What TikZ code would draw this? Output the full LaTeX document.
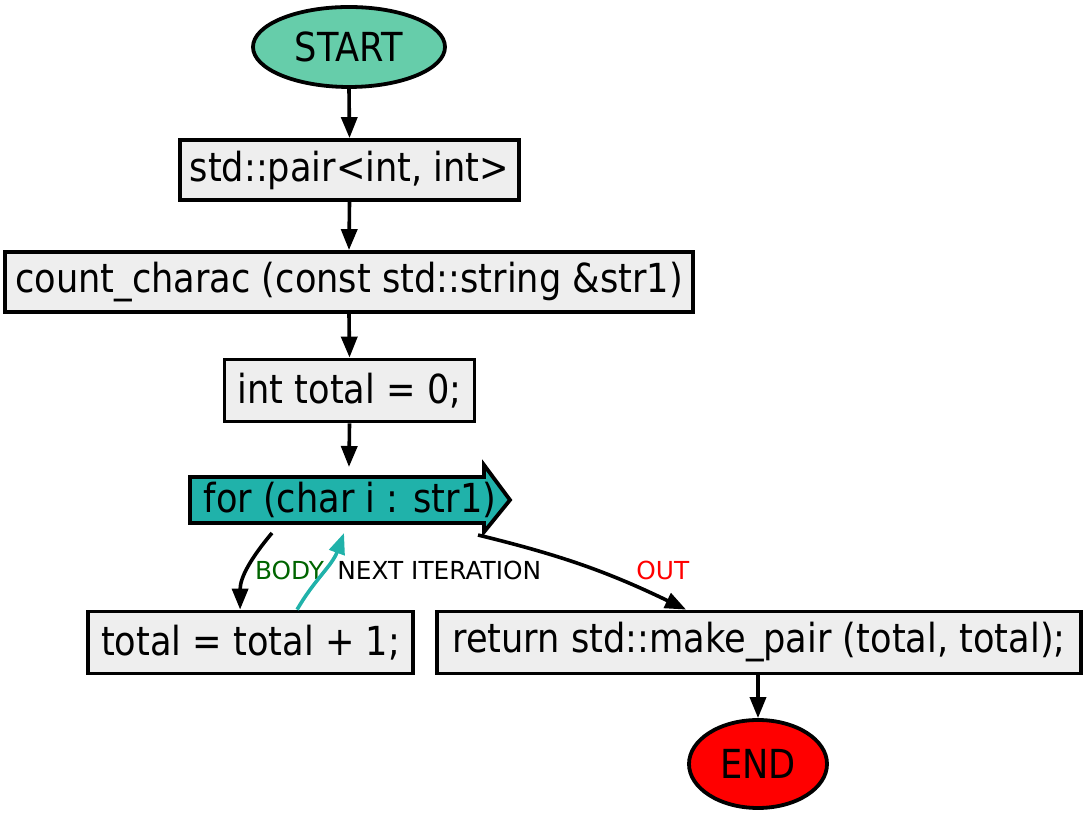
\documentclass[tikz,border=0pt]{standalone}
\usepackage{fontspec}
\setmainfont{DejaVu Sans}[FakeStretch=0.88]
\newfontfamily\lblfont{DejaVu Sans}
\usetikzlibrary{shapes.geometric,arrows.meta,calc,backgrounds}
\definecolor{startc}{RGB}{102,205,170}
\definecolor{boxc}{RGB}{238,238,238}
\definecolor{forc}{RGB}{32,178,170}
\definecolor{bodyc}{RGB}{0,100,0}
\begin{document}
\begin{tikzpicture}[x=0.5pt,y=0.5pt,
  every node/.style={font=\fontsize{20pt}{24pt}\selectfont},
  term/.style={ellipse,draw=black,line width=1.9pt,inner sep=0pt},
  stmt/.style={rectangle,draw=black,line width=1.9pt,fill=boxc,inner sep=0pt,minimum height=30pt},
  flow/.style={line width=1.8pt,-{Triangle[length=10.5pt,width=8pt]}},
  lbl/.style={font=\lblfont\fontsize{12.4pt}{15pt}\selectfont,inner sep=0pt}]
\useasboundingbox (0,0) rectangle (1086,813);
\node[term,fill=startc,minimum width=96pt,minimum height=40pt] (start) at (349,766) {START};
\node[stmt,minimum width=169.5pt] (pair) at (349.5,643) {std::pair<int, int>};
\node[stmt,minimum width=344pt] (count) at (349,531) {count\_charac (const std::string \&str1)};
\node[stmt,minimum width=125pt,minimum height=31pt] (init) at (349.5,422.5) {int total = 0;};
\node[inner sep=0pt] (for) at (350,313) {for (char i : str1)};
\begin{scope}[on background layer]
\draw[line width=1.9pt,fill=forc,line join=miter]
  ($(for.center)+(-160,23)$) -- ($(for.center)+(134,23)$) -- ($(for.center)+(134,35)$)
  -- ($(for.center)+(160,0)$) -- ($(for.center)+(134,-32)$) -- ($(for.center)+(134,-23)$)
  -- ($(for.center)+(-160,-23)$) -- cycle;
\end{scope}
\node[stmt,minimum width=162.5pt,minimum height=31pt] (body) at (250.5,170.5) {total = total + 1;};
\node[stmt,minimum width=322pt,minimum height=31pt] (ret) at (759,170.5) {return std::make\_pair (total, total);};
\node[term,fill=red,minimum width=69pt,minimum height=44pt] (end) at (758,49) {END};

\draw[flow] (start.south) -- (pair.north);
\draw[flow] (pair.south) -- (count.north);
\draw[flow] (count.south) -- (init.north);
\draw[flow] (init.south) -- ($(for.center)+(-1,33)$);
\draw[flow] ($(for.center)+(-78,-33)$) to[out=230,in=90]
  node[lbl,pos=0.5,anchor=west,xshift=2.5pt,yshift=-1pt,text=bodyc] {BODY} ($(body.north west)+(154,0)$);
\draw[flow,draw=forc] ($(body.north west)+(211,0)$) to[out=60,in=250]
  node[lbl,pos=0.5,right=6.5pt,yshift=1pt] {NEXT ITERATION} ($(for.center)+(-6,-33)$);
\draw[flow] ($(for.center)+(128,-35)$) to[bend left=6]
  node[lbl,pos=0.8,above right=5pt,xshift=-9pt,yshift=-1pt,text=red] {OUT} ($(ret.north west)+(251,0)$);
\draw[flow] (ret.south -| end.north) -- (end.north);
\end{tikzpicture}
\end{document}
